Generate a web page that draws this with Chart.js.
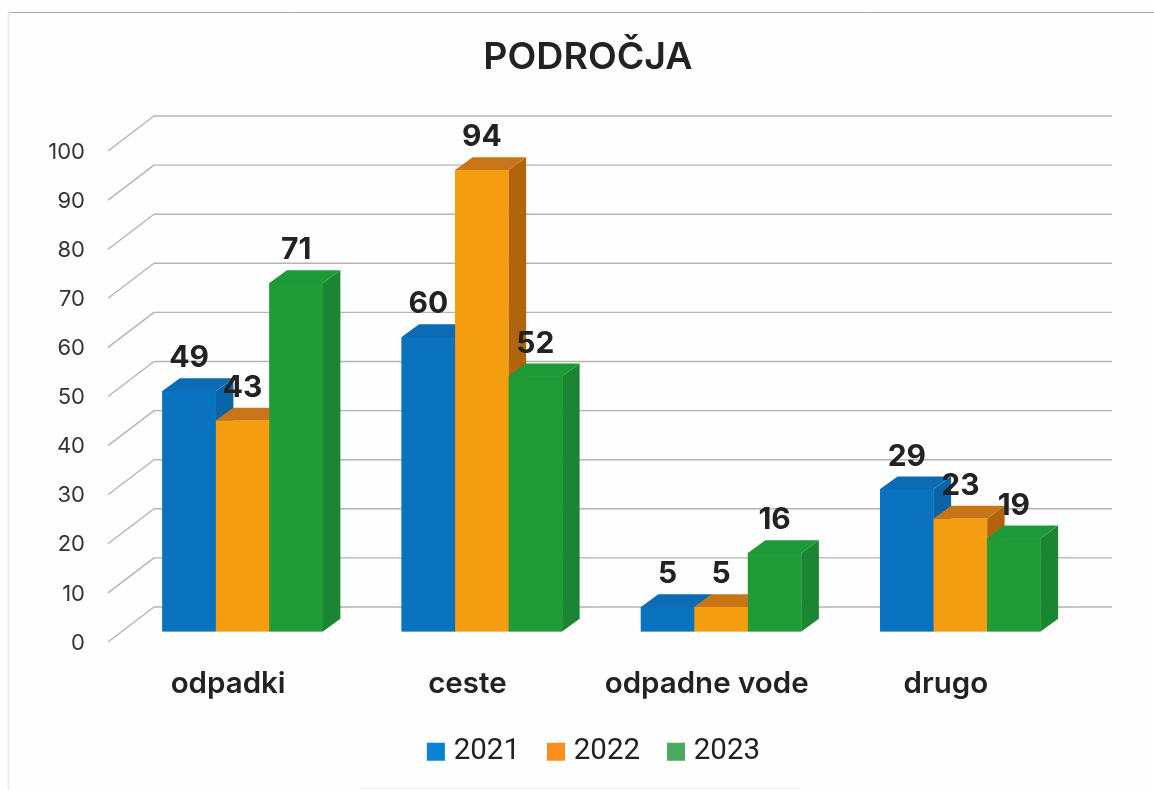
<!DOCTYPE html>
<html><head><meta charset="utf-8">
<style>html,body{margin:0;padding:0;background:#fff}canvas{display:block}</style>
<script src="https://cdn.jsdelivr.net/npm/chart.js@4/dist/chart.umd.min.js"></script>
</head><body>
<canvas id="c" width="1154" height="790"></canvas>
<script>
const categories = ['odpadki','ceste','odpadne vode','drugo'];
const years = ['2021','2022','2023'];
const values2021 = [49,60,5,29];
const values2022 = [43,94,5,23];
const values2023 = [71,52,16,19];
const frontColors = ['#0a73c0','#f59d10','#1f9c36'];
const topColors = ['#0d6bb6','#c8751a','#1d9a38'];
const sideColors = ['#0b63a8','#b0640f','#1a8632'];
const legendColors = ['#0a82d8','#fb8c1e','#4aa95f'];
const FONT = 'Inter, "Liberation Sans", sans-serif';
const DX = 17.5, DY = 12.7;

const frame = {
  id:'frame',
  afterLayout(ch){ ch.legend.top -= 13.5; ch.legend.bottom -= 13.5; ch.legend.left += 17; },
  beforeDraw(ch){
    const c = ch.ctx; c.save();
    c.fillStyle='#fefefe'; c.fillRect(0,0,ch.width,ch.height);
    c.strokeStyle='#a9a9a9'; c.lineWidth=1;
    c.beginPath(); c.moveTo(8,12.5); c.lineTo(1154,12.5); c.stroke();
    c.strokeStyle='#ececec'; c.lineWidth=1.5;
    c.beginPath(); c.moveTo(8.5,12); c.lineTo(8.5,790); c.stroke();
    c.strokeStyle='#f0f0f0'; c.lineWidth=1;
    c.beginPath(); c.moveTo(360,788.5); c.lineTo(800,788.5); c.stroke();
    c.restore();
  }
};
const wall = {
  id:'wall',
  beforeDatasetsDraw(ch){
    const c = ch.ctx, y = ch.scales.y;
    c.save(); c.strokeStyle='#b4b4b4'; c.lineWidth=1.4; c.lineJoin='round';
    y.ticks.forEach(t=>{
      const p = y.getPixelForValue(t.value);
      c.beginPath(); c.moveTo(108,p+10.5); c.lineTo(154,p-24.5); c.lineTo(1112,p-24.5); c.stroke();
    });
    c.restore();
  }
};
const solid = {
  id:'solid',
  afterDatasetsDraw(ch){
    const c = ch.ctx; c.save();
    categories.forEach((_,i)=>{
      ch.data.datasets.forEach((ds,d)=>{
        const b = ch.getDatasetMeta(d).data[i];
        const l=b.x-b.width/2, r=b.x+b.width/2, t=b.y, u=b.base;
        c.fillStyle=sideColors[d];
        c.beginPath(); c.moveTo(r,t); c.lineTo(r+DX,t-DY); c.lineTo(r+DX,u-DY); c.lineTo(r,u); c.closePath(); c.fill();
        c.fillStyle=topColors[d];
        c.beginPath(); c.moveTo(l,t); c.lineTo(l+DX,t-DY); c.lineTo(r+DX,t-DY); c.lineTo(r,t); c.closePath(); c.fill();
        c.fillStyle=frontColors[d];
        c.fillRect(l,t,r-l,u-t);
      });
    });
    c.font='700 30px '+FONT; c.fillStyle='#222'; c.textAlign='center'; c.textBaseline='middle';
    ch.data.datasets.forEach((ds,d)=>{
      ch.getDatasetMeta(d).data.forEach((b,i)=>{
        c.fillText(String(ds.data[i]), b.x, b.y-32.5);
      });
    });
    c.restore();
  }
};
new Chart(document.getElementById('c'),{
  type:'bar',
  data:{labels:categories,datasets:[
    {label:years[0],data:values2021,backgroundColor:frontColors[0]},
    {label:years[1],data:values2022,backgroundColor:frontColors[1]},
    {label:years[2],data:values2023,backgroundColor:frontColors[2]}
  ]},
  plugins:[frame,wall,solid],
  options:{
    responsive:false,animation:false,
    layout:{padding:{left:22,right:0,top:0,bottom:0}},
    datasets:{bar:{categoryPercentage:0.671,barPercentage:1}},
    plugins:{
      title:{display:true,text:'PODROČJA',color:'#222',
        font:{family:FONT,size:37.5,weight:'600',lineHeight:1},
        padding:{top:38.5,bottom:64.5}},
      legend:{position:'bottom',
        labels:{
          color:'#222',font:{family:'Roboto, sans-serif',size:29.5},usePointStyle:true,boxWidth:6,boxHeight:18,padding:33,
          generateLabels(ch){return ch.data.datasets.map((ds,i)=>({text:ds.label,fillStyle:legendColors[i],strokeStyle:legendColors[i],lineWidth:0,pointStyle:'rect',datasetIndex:i,fontColor:'#222'}));}
        }},
      tooltip:{enabled:false}
    },
    scales:{
      x:{
        grid:{display:false},border:{display:false},
        ticks:{color:'#222',font:{family:FONT,size:29.5,weight:'600'},padding:27,labelOffset:-14.5,maxRotation:0,autoSkip:false},
        afterFit(s){s.height=86;s.paddingLeft=0;s.paddingRight=0;}
      },
      y:{
        min:0,max:100,
        grid:{display:false,drawTicks:false},border:{display:false},
        ticks:{stepSize:10,color:'#333',font:{family:FONT,size:22},padding:38,labelOffset:11.5},
        afterFit(s){s.width=101;s.paddingTop=0;s.paddingBottom=0;}
      },
      y2:{
        position:'right',min:0,max:100,
        grid:{display:false,drawTicks:false},border:{display:false},
        ticks:{display:false},
        afterFit(s){s.width=74;s.paddingTop=0;s.paddingBottom=0;}
      }
    }
  }
});
</script>
</body></html>
